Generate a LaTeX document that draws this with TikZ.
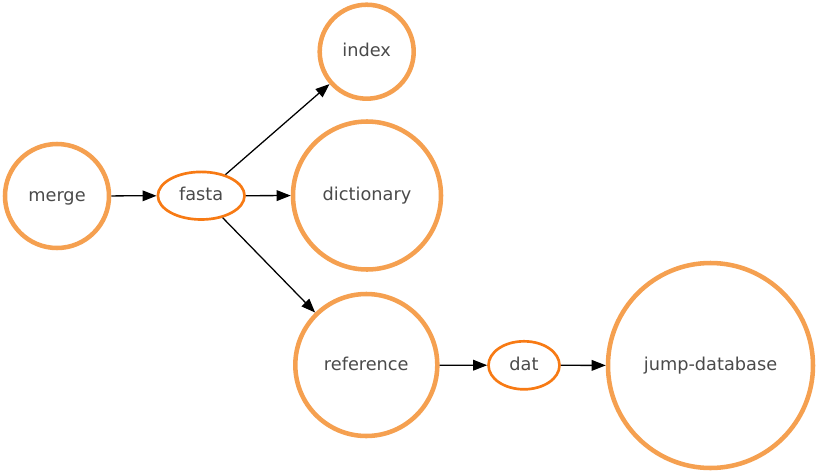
\documentclass[tikz,border=0pt]{standalone}
\usepackage{fontspec}
\setmainfont{DejaVu Sans}
\usetikzlibrary{arrows.meta,shapes.geometric}
\definecolor{ringc}{HTML}{F5A050}
\definecolor{ellc}{HTML}{F77A14}
\definecolor{txtc}{HTML}{4A4A4A}
\tikzset{
  lbl/.style={text=txtc,font=\fontsize{13.3}{15}\selectfont,text height=9pt,text depth=1.5pt},
  ring/.style={circle,draw=ringc,line width=3.4pt,inner sep=0pt,lbl},
  oval/.style={ellipse,draw=ellc,line width=2pt,inner sep=0pt,lbl},
  edge/.style={draw=black,line width=0.95pt,-{Triangle[length=10.5pt,width=8pt]}}
}
\begin{document}
\begin{tikzpicture}[x=0.75pt,y=-0.75pt]
\useasboundingbox (0,0) rectangle (819,472);
\node[ring,minimum size=78pt] (merge) at (57,196) {merge};
\node[oval,minimum width=65pt,minimum height=35.7pt] (fasta) at (201.2,195.7) {fasta};
\node[ring,minimum size=70.5pt] (index) at (366.7,51.7) {index};
\node[ring,minimum size=111pt] (dictionary) at (367,195.5) {dictionary};
\node[ring,minimum size=106.5pt] (reference) at (366.3,365) {reference};
\node[oval,minimum width=53.25pt,minimum height=36pt] (dat) at (524,365.3) {dat};
\node[ring,minimum size=153.75pt] (jump) at (710.5,365.5) {jump-database};
\draw[edge] (merge) -- (fasta);
\draw[edge] (fasta) -- (index);
\draw[edge] (fasta) -- (dictionary);
\draw[edge] (fasta) -- (reference);
\draw[edge] (reference) -- (dat);
\draw[edge] (dat) -- (jump);
\end{tikzpicture}
\end{document}
